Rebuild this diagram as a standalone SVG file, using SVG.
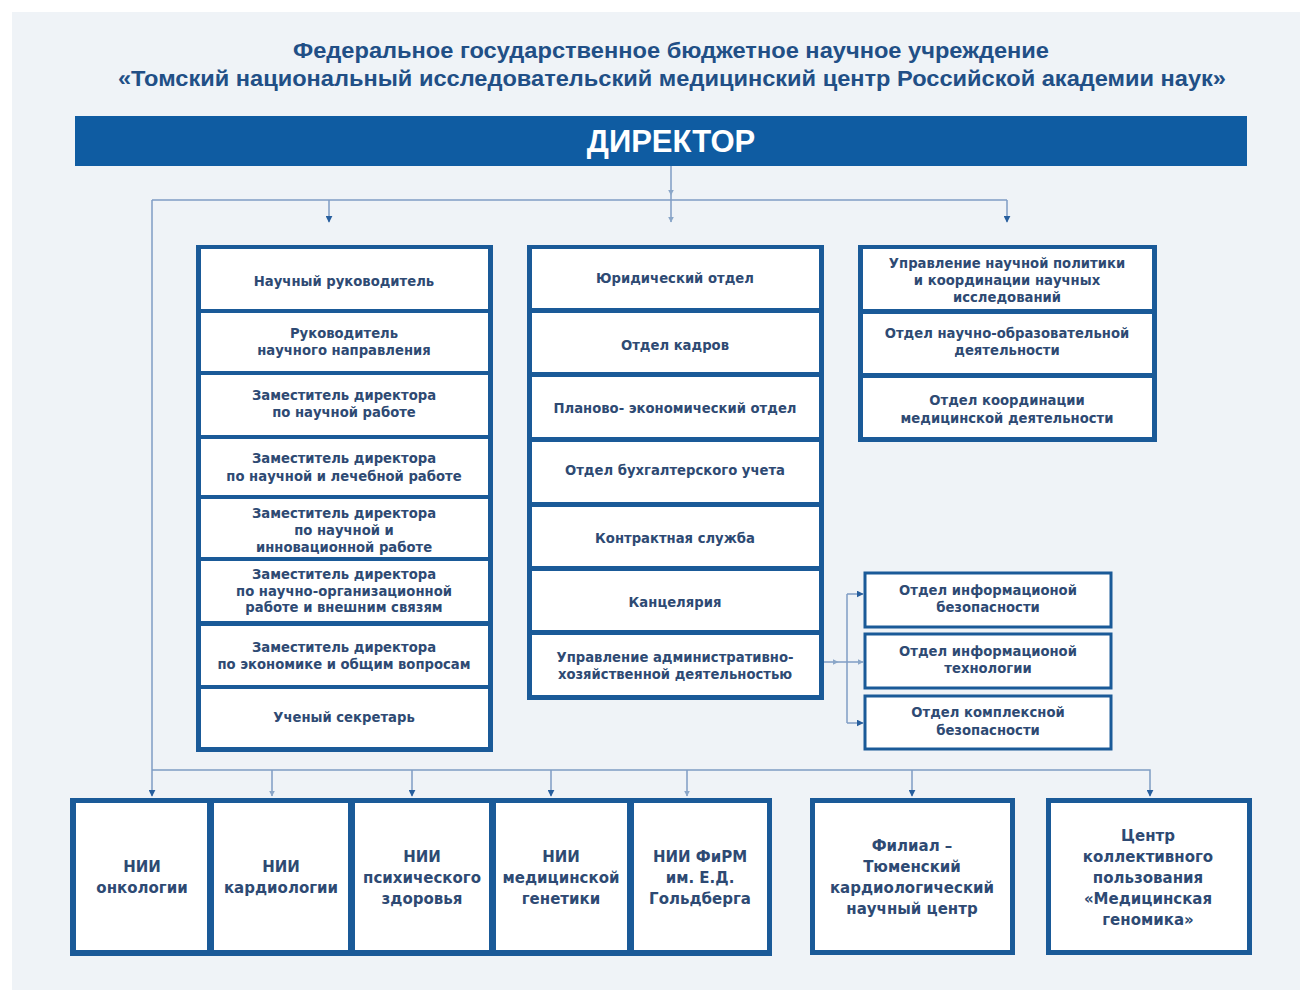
<svg xmlns="http://www.w3.org/2000/svg" width="1309" height="990" viewBox="0 0 1309 990">
<style>
.t{font-family:"DejaVu Sans","Liberation Sans",sans-serif;font-weight:bold;fill:#2e4a73;text-anchor:middle}
.s{font-size:13.2px}
.b{font-size:15px}
.title{font-family:"Liberation Sans",Arial,sans-serif;font-weight:bold;font-size:22px;fill:#214f86;text-anchor:middle}
.blue{fill:#1a5a98}
.cell{fill:#ffffff}
.frame{fill:#ffffff;stroke:#1a5a98}
.ln{fill:none;stroke:#7f9dc4;stroke-width:1.5}
</style>
<defs>
<marker id="ah" viewBox="0 0 10 10" refX="9" refY="5" markerWidth="7" markerHeight="7" orient="auto" markerUnits="userSpaceOnUse">
<path d="M0,0 L10,5 L0,10 z" fill="#275f9e"/>
</marker>
<marker id="ahl" viewBox="0 0 10 10" refX="9" refY="5" markerWidth="6" markerHeight="6" orient="auto" markerUnits="userSpaceOnUse">
<path d="M0,0 L10,5 L0,10 z" fill="#8aa6c8"/>
</marker>
</defs>
<rect x="0" y="0" width="1309" height="990" fill="#ffffff"/>
<rect x="12" y="12" width="1288" height="978" fill="#eff3f7"/>

<g id="title">
<text class="title" x="671" y="58" textLength="756" lengthAdjust="spacingAndGlyphs">Федеральное государственное бюджетное научное учреждение</text>
<text class="title" x="672" y="86" textLength="1108" lengthAdjust="spacingAndGlyphs">«Томский национальный исследовательский медицинский центр Российской академии наук»</text>
</g>

<g id="director">
<rect x="75" y="116" width="1172" height="50" fill="#0f5ca2"/>
<text x="671" y="152" font-family="Liberation Sans, Arial, sans-serif" font-weight="bold" font-size="31" fill="#ffffff" text-anchor="middle">ДИРЕКТОР</text>
</g>

<g id="connectors">
<path class="ln" d="M671,166 V195" marker-end="url(#ahl)"/>
<path class="ln" d="M671,195 V222" marker-end="url(#ahl)"/>
<path class="ln" d="M152,200 H1007"/>
<path class="ln" d="M329,200 V222" marker-end="url(#ah)"/>
<path class="ln" d="M1007,200 V222" marker-end="url(#ah)"/>
<path class="ln" d="M152,200 V796" marker-end="url(#ah)"/>
<path class="ln" d="M152,770 H1150 V796" marker-end="url(#ah)"/>
<path class="ln" d="M272,770 V796" marker-end="url(#ahl)"/>
<path class="ln" d="M412,770 V796" marker-end="url(#ah)"/>
<path class="ln" d="M551,770 V796" marker-end="url(#ah)"/>
<path class="ln" d="M687,770 V796" marker-end="url(#ahl)"/>
<path class="ln" d="M912,770 V796" marker-end="url(#ah)"/>
<path class="ln" d="M824,662 H838" marker-end="url(#ahl)"/>
<path class="ln" d="M838,662 H863" marker-end="url(#ahl)"/>
<path class="ln" d="M847,594 V723"/>
<path class="ln" d="M847,594 H863" marker-end="url(#ah)"/>
<path class="ln" d="M847,723 H863" marker-end="url(#ah)"/>
</g>

<g id="left-column">
<rect class="blue" x="196" y="245" width="297" height="507"/>
<rect class="cell" x="201" y="249" width="287" height="60"/>
<rect class="cell" x="201" y="313" width="287" height="58"/>
<rect class="cell" x="201" y="375" width="287" height="60"/>
<rect class="cell" x="201" y="439" width="287" height="56"/>
<rect class="cell" x="201" y="499" width="287" height="58"/>
<rect class="cell" x="201" y="561" width="287" height="60"/>
<rect class="cell" x="201" y="626" width="287" height="59"/>
<rect class="cell" x="201" y="689" width="287" height="58"/>
<text class="t s" x="344" y="286">Научный руководитель</text>
<text class="t s" x="344" y="338">Руководитель</text>
<text class="t s" x="344" y="355">научного направления</text>
<text class="t s" x="344" y="400">Заместитель директора</text>
<text class="t s" x="344" y="417">по научной работе</text>
<text class="t s" x="344" y="463">Заместитель директора</text>
<text class="t s" x="344" y="481">по научной и лечебной работе</text>
<text class="t s" x="344" y="518">Заместитель директора</text>
<text class="t s" x="344" y="535">по научной и</text>
<text class="t s" x="344" y="552">инновационной работе</text>
<text class="t s" x="344" y="579">Заместитель директора</text>
<text class="t s" x="344" y="596">по научно-организационной</text>
<text class="t s" x="344" y="612">работе и внешним связям</text>
<text class="t s" x="344" y="652">Заместитель директора</text>
<text class="t s" x="344" y="669">по экономике и общим вопросам</text>
<text class="t s" x="344" y="722">Ученый секретарь</text>
</g>

<g id="middle-column">
<rect class="blue" x="527" y="245" width="297" height="455"/>
<rect class="cell" x="532" y="249" width="287" height="59"/>
<rect class="cell" x="532" y="313" width="287" height="59"/>
<rect class="cell" x="532" y="377" width="287" height="60"/>
<rect class="cell" x="532" y="442" width="287" height="60"/>
<rect class="cell" x="532" y="507" width="287" height="59"/>
<rect class="cell" x="532" y="571" width="287" height="59"/>
<rect class="cell" x="532" y="635" width="287" height="60"/>
<text class="t s" x="675" y="283">Юридический отдел</text>
<text class="t s" x="675" y="350">Отдел кадров</text>
<text class="t s" x="675" y="413">Планово- экономический отдел</text>
<text class="t s" x="675" y="475">Отдел бухгалтерского учета</text>
<text class="t s" x="675" y="543">Контрактная служба</text>
<text class="t s" x="675" y="607">Канцелярия</text>
<text class="t s" x="675" y="662">Управление административно-</text>
<text class="t s" x="675" y="679">хозяйственной деятельностью</text>
</g>

<g id="right-column">
<rect class="blue" x="858" y="245" width="299" height="197"/>
<rect class="cell" x="863" y="249" width="289" height="60"/>
<rect class="cell" x="863" y="314" width="289" height="59"/>
<rect class="cell" x="863" y="378" width="289" height="59"/>
<text class="t s" x="1007" y="268">Управление научной политики</text>
<text class="t s" x="1007" y="285">и координации научных</text>
<text class="t s" x="1007" y="302">исследований</text>
<text class="t s" x="1007" y="338">Отдел научно-образовательной</text>
<text class="t s" x="1007" y="355">деятельности</text>
<text class="t s" x="1007" y="405">Отдел координации</text>
<text class="t s" x="1007" y="423">медицинской деятельности</text>
</g>

<g id="info-security">
<rect class="frame" x="865" y="573" width="246" height="54" stroke-width="3"/>
<text class="t s" x="988" y="595">Отдел информационой</text>
<text class="t s" x="988" y="612">безопасности</text>
</g>
<g id="info-tech">
<rect class="frame" x="865" y="634" width="246" height="54" stroke-width="3"/>
<text class="t s" x="988" y="656">Отдел информационой</text>
<text class="t s" x="988" y="673">технологии</text>
</g>
<g id="complex-security">
<rect class="frame" x="865" y="696" width="246" height="53" stroke-width="3"/>
<text class="t s" x="988" y="717">Отдел комплексной</text>
<text class="t s" x="988" y="735">безопасности</text>
</g>

<g id="institutes">
<rect class="blue" x="70" y="798" width="702" height="158"/>
<rect class="cell" x="76" y="803" width="131" height="147"/>
<rect class="cell" x="214" y="803" width="134" height="147"/>
<rect class="cell" x="355" y="803" width="134" height="147"/>
<rect class="cell" x="496" y="803" width="131" height="147"/>
<rect class="cell" x="634" y="803" width="133" height="147"/>
<text class="t b" x="142" y="872">НИИ</text>
<text class="t b" x="142" y="893">онкологии</text>
<text class="t b" x="281" y="872">НИИ</text>
<text class="t b" x="281" y="893">кардиологии</text>
<text class="t b" x="422" y="862">НИИ</text>
<text class="t b" x="422" y="883">психического</text>
<text class="t b" x="422" y="904">здоровья</text>
<text class="t b" x="561" y="862">НИИ</text>
<text class="t b" x="561" y="883">медицинской</text>
<text class="t b" x="561" y="904">генетики</text>
<text class="t b" x="700" y="862">НИИ ФиРМ</text>
<text class="t b" x="700" y="883">им. Е.Д.</text>
<text class="t b" x="700" y="904">Гольдберга</text>
</g>

<g id="filial">
<rect class="frame" x="812.5" y="800.5" width="200" height="152" stroke-width="5"/>
<text class="t b" x="912" y="851">Филиал –</text>
<text class="t b" x="912" y="872">Тюменский</text>
<text class="t b" x="912" y="893">кардиологический</text>
<text class="t b" x="912" y="914">научный центр</text>
</g>

<g id="genomics-center">
<rect class="frame" x="1048.5" y="800.5" width="201" height="152" stroke-width="5"/>
<text class="t b" x="1148" y="841">Центр</text>
<text class="t b" x="1148" y="862">коллективного</text>
<text class="t b" x="1148" y="883">пользования</text>
<text class="t b" x="1148" y="904">«Медицинская</text>
<text class="t b" x="1148" y="925">геномика»</text>
</g>
</svg>
